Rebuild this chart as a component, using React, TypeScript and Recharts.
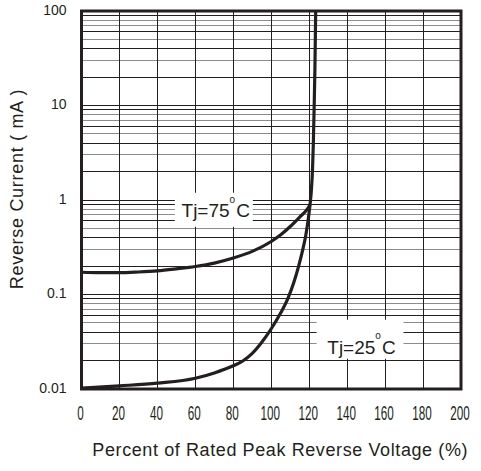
import React from 'react';
import { LineChart, Line, XAxis, YAxis, ReferenceArea, ReferenceLine } from 'recharts';

const INK = '#231f20';
const GREY = '#8c8c8c';
const FONT = '"Liberation Sans", Arial, sans-serif';

const xTicks = [0, 20, 40, 60, 80, 100, 120, 140, 160, 180, 200];
const xGrid = [20, 40, 60, 80, 100, 120, 140, 160, 180];
const yTicks = [0.01, 0.1, 1, 10, 100];
const yTickLabels = ['0.01', '0.1', '1', '10', '100'];
const decades = [0.01, 0.1, 1, 10];
const darkMinor = [2, 4, 6, 9];
const greyMinor = [3, 5, 7, 8];

const tj75X = [0, 10, 20, 30, 40, 50, 60, 70, 80, 90, 100, 105, 110, 115, 119, 120.42];
const tj75Y = [0.172, 0.17, 0.17, 0.173, 0.178, 0.187, 0.198, 0.215, 0.243, 0.286, 0.364, 0.428, 0.524, 0.66, 0.8, 0.89];

const tj25X = [0, 20, 40, 60, 70, 80, 85, 90, 95, 100, 105, 108.68, 111.84, 114.47, 116.58, 118.16, 119.47, 120.42, 121.16, 121.74, 122.16, 122.58, 123.0, 123.42];
const tj25Y = [0.0102, 0.0108, 0.01155, 0.013, 0.0148, 0.0176, 0.0198, 0.0238, 0.0312, 0.0434, 0.064, 0.09, 0.133, 0.201, 0.297, 0.418, 0.617, 0.89, 1.28, 2.09, 3.84, 9.0, 23.9, 100];

const tj75Data = tj75X.map((x, i) => ({ x, y: tj75Y[i] }));
const tj25Data = tj25X.map((x, i) => ({ x, y: tj25Y[i] }));

const darkLines = [0.1, 1, 10, ...decades.flatMap((d) => darkMinor.map((m) => +(d * m).toPrecision(3)))];
const greyLines = decades.flatMap((d) => greyMinor.map((m) => +(d * m).toPrecision(3)));

// annotation boxes (data coordinates)
const box75 = { x1: 49.2, x2: 90.3, y1: 0.52, y2: 1.19 };
const box25 = { x1: 123.9, x2: 169.7, y1: 0.0209, y2: 0.054 };

const XTick = (props: any) => {
  const { x, y, payload } = props;
  return (
    <g transform={`translate(${x - 1},${y})`}>
      <text transform="scale(0.6,1)" x={0} y={31} textAnchor="middle" fontSize={19.5} fill={INK} fontFamily={FONT}>
        {payload.value}
      </text>
    </g>
  );
};

const TjLabel = (t: string, ox: number, oy: number) => (props: any) => {
  const vb = props.viewBox || {};
  const x = vb.x + ox;
  const y = vb.y + oy;
  return (
    <text x={x} y={y} fontSize={19} fill={INK} fontFamily={FONT}>
      {`Tj=${t}`}
      <tspan fontSize={10} dy={-14.5}>o</tspan>
      <tspan dy={14.5} dx={1}>C</tspan>
    </text>
  );
};

const YTitle = (props: any) => {
  const vb = props.viewBox || { x: 0, y: 0, height: 0 };
  const cx = vb.x + 17;
  const cy = vb.y + vb.height / 2 - 11;
  return (
    <text
      x={cx}
      y={cy}
      transform={`rotate(-90, ${cx}, ${cy})`}
      textAnchor="middle"
      dominantBaseline="central"
      fontSize={18}
      letterSpacing={0.7}
      fill={INK}
      fontFamily={FONT}
    >
      Reverse Current ( mA )
    </text>
  );
};

const XTitle = (props: any) => {
  const vb = props.viewBox || { x: 0, y: 0, width: 0 };
  const cx = vb.x + vb.width / 2 + 9;
  const by = vb.y + 67;
  return (
    <text x={cx} y={by} textAnchor="middle" fontSize={18} letterSpacing={0.6} fill={INK} fontFamily={FONT}>
      Percent of Rated Peak Reverse Voltage (%)
    </text>
  );
};

export default function App() {
  const extra: any = { zIndex: 500 };
  const crisp: any = { shapeRendering: 'crispEdges' };
  return (
    <div style={{ position: 'absolute', left: 0, top: 0, width: 481, height: 471, background: '#fff' }}>
      <LineChart width={481} height={471} margin={{ top: 11, right: 20, bottom: 0, left: 0 }}>
        <XAxis
          dataKey="x"
          type="number"
          domain={[0, 200]}
          ticks={xTicks}
          axisLine={false}
          tickLine={false}
          tickSize={0}
          tickMargin={0}
          height={82}
          tick={<XTick />}
          label={XTitle}
          allowDataOverflow
        />
        <YAxis
          dataKey="y"
          type="number"
          scale="log"
          domain={[0.01, 100]}
          ticks={yTicks}
          tickFormatter={(v: number) => yTickLabels[yTicks.indexOf(v)] ?? String(v)}
          axisLine={false}
          tickLine={false}
          tickSize={0}
          tickMargin={15}
          width={81.5}
          tick={{ fontSize: 14, fill: INK, fontFamily: FONT, dy: -1 }}
          label={YTitle}
          allowDataOverflow
        />
        {greyLines.map((v) => (
          <ReferenceLine key={`g${v}`} y={v} stroke={GREY} strokeWidth={1} {...crisp} />
        ))}
        {darkLines.map((v) => (
          <ReferenceLine key={`d${v}`} y={v} stroke={INK} strokeWidth={1} {...crisp} />
        ))}
        {xGrid.map((v) => (
          <ReferenceLine key={`x${v}`} x={v} stroke={INK} strokeWidth={1} {...crisp} />
        ))}
        <ReferenceArea {...box75} {...extra} fill="#fff" fillOpacity={1} stroke="none" label={TjLabel('75', 6.7, 24.5)} />
        <ReferenceArea {...box25} {...extra} fill="#fff" fillOpacity={1} stroke="none" label={TjLabel('25', 10.7, 34)} />
        <Line data={tj75Data} dataKey="y" type="monotone" stroke={INK} strokeWidth={3.2} dot={false} isAnimationActive={false} />
        <Line data={tj25Data} dataKey="y" type="monotone" stroke={INK} strokeWidth={3.2} dot={false} isAnimationActive={false} />
        <ReferenceArea x1={0} x2={200} y1={0.01} y2={100} {...extra} fill="none" stroke={INK} strokeWidth={3} />
      </LineChart>
    </div>
  );
}
